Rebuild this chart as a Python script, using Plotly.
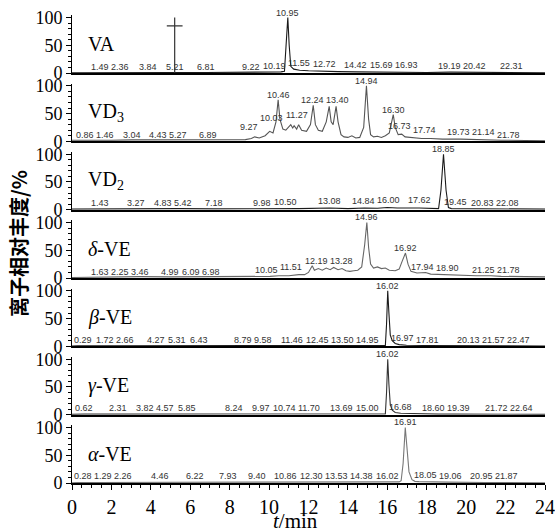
import plotly.graph_objects as go

W, H = 555, 532

# ---------------- data (retention time in min, relative abundance in %) ----------------
va_t = [0, 1.49, 2.36, 3.84, 5.21, 6.81, 8.0, 9.22, 10.19, 10.6, 10.78, 10.86, 10.95, 11.02, 11.1, 11.25, 11.55, 12.0, 12.72, 13.5, 14.42, 15.69, 16.93, 18.0, 19.19, 20.42, 22.31, 24]
va_i = [0.5, 1, 1, 1, 1, 1, 1, 1.5, 2, 2, 3, 45, 100, 50, 12, 7, 5, 4, 3, 2.5, 2, 1.5, 1.5, 1, 1.5, 1, 1, 0.5]
va_labels = ["1.49", "2.36", "3.84", "5.21", "6.81", "9.22", "10.19", "10.95", "11.55", "12.72", "14.42", "15.69", "16.93", "19.19", "20.42", "22.31"]
va_label_h = [3, 3, 3, 3, 3, 3, 6, 101, 10, 9, 8, 7, 7, 6, 5, 5]
va_cursor_t = 5.21
va_cursor_h = 85

vd3_t = [0, 0.86, 1.46, 2.0, 3.04, 4.43, 5.27, 6.0, 6.89, 8.0, 8.8, 9.1, 9.27, 9.5, 9.8, 10.03, 10.2, 10.35, 10.46, 10.55, 10.7, 10.85, 11.0, 11.1, 11.2, 11.27, 11.4, 11.5, 11.65, 11.9, 12.1, 12.24, 12.35, 12.5, 12.7, 12.9, 13.05, 13.15, 13.25, 13.4, 13.5, 13.65, 13.8, 14.0, 14.2, 14.4, 14.6, 14.8, 14.94, 15.05, 15.15, 15.3, 15.5, 15.7, 15.9, 16.1, 16.3, 16.4, 16.55, 16.73, 16.9, 17.2, 17.74, 18.2, 18.8, 19.73, 20.5, 21.14, 21.78, 23.0, 24]
vd3_i = [2, 2.5, 3, 2, 2.5, 2.5, 3, 2, 2.5, 2.5, 3, 5, 8, 6, 10, 18, 15, 35, 75, 40, 22, 20, 27, 30, 24, 28, 22, 30, 20, 18, 30, 65, 30, 20, 18, 35, 63, 35, 30, 63, 35, 12, 8, 7, 10, 6, 7, 25, 100, 40, 12, 8, 9, 7, 10, 15, 48, 25, 12, 13, 8, 7, 5, 5, 4, 4, 3, 3, 2, 1.5, 1]
vd3_labels = ["0.86", "1.46", "3.04", "4.43", "5.27", "6.89", "9.27", "10.03", "10.46", "11.27", "12.24", "13.40", "14.94", "16.30", "16.73", "17.74", "19.73", "21.14", "21.78"]
vd3_label_h = [4, 4, 4, 5, 5, 4, 18, 35, 77, 41, 68, 68, 102, 50, 21, 14, 9, 9, 5]

vd2_t = [0, 1.43, 3.27, 4.83, 5.42, 7.18, 9.0, 9.98, 10.5, 11.5, 13.08, 14.0, 14.84, 15.5, 16.0, 16.5, 17.62, 18.4, 18.6, 18.72, 18.85, 18.98, 19.1, 19.25, 19.45, 20.83, 22.08, 24]
vd2_i = [1, 1.5, 1.5, 1.5, 2, 1.5, 1.5, 2, 2.5, 2, 3, 2, 3, 2.5, 4, 3, 3, 2, 2, 35, 100, 35, 4, 2, 2, 1.5, 1.5, 1]
vd2_labels = ["1.43", "3.27", "4.83", "5.42", "7.18", "9.98", "10.50", "13.08", "14.84", "16.00", "17.62", "18.85", "19.45", "20.83", "22.08"]
vd2_label_h = [4, 4, 4, 4, 4, 4, 7, 9, 9, 10, 10, 102, 6, 4, 4]

dve_t = [0, 1.63, 2.25, 3.46, 4.99, 6.09, 6.98, 8.0, 9.0, 10.05, 10.5, 11.0, 11.51, 11.8, 12.0, 12.19, 12.3, 12.5, 12.7, 12.9, 13.1, 13.28, 13.5, 13.7, 13.9, 14.1, 14.3, 14.5, 14.7, 14.85, 14.96, 15.05, 15.15, 15.3, 15.5, 15.7, 15.9, 16.1, 16.4, 16.6, 16.75, 16.92, 17.05, 17.2, 17.5, 17.94, 18.2, 18.9, 19.5, 20.5, 21.25, 21.78, 23.0, 24]
dve_i = [1, 2, 2.5, 2.5, 2, 2, 2.5, 2, 2.5, 3, 4, 4, 6, 6, 10, 22, 14, 17, 14, 18, 15, 19, 15, 17, 13, 12, 13, 14, 20, 60, 100, 55, 25, 18, 20, 17, 18, 14, 13, 16, 30, 45, 25, 12, 9, 10, 7, 6, 5, 4, 4, 3, 2.5, 2]
dve_labels = ["1.63", "2.25", "3.46", "4.99", "6.09", "6.98", "10.05", "11.51", "12.19", "13.28", "14.96", "16.92", "17.94", "18.90", "21.25", "21.78"]
dve_label_h = [3, 3, 3, 3, 3, 3, 7, 13, 23, 23, 102, 46, 13, 10, 8, 7]

bve_t = [0, 0.29, 1.72, 2.66, 4.27, 5.31, 6.43, 8.79, 9.58, 11.46, 12.45, 13.5, 14.95, 15.9, 15.96, 16.02, 16.08, 16.15, 16.25, 16.4, 16.6, 16.97, 17.81, 20.13, 21.57, 22.47, 24]
bve_i = [0.5, 1, 1, 1, 1, 1, 1, 1, 1, 1, 1, 1, 1.5, 1.5, 40, 100, 60, 20, 10, 5, 3, 2, 1.5, 1, 1, 1, 0.5]
bve_labels = ["0.29", "1.72", "2.66", "4.27", "5.31", "6.43", "8.79", "9.58", "11.46", "12.45", "13.50", "14.95", "16.02", "16.97", "17.81", "20.13", "21.57", "22.47"]
bve_label_h = [4, 4, 4, 4, 4, 4, 4, 4, 5, 5, 5, 5, 102, 7, 5, 4, 4, 4]

gve_t = [0, 0.62, 2.31, 3.82, 4.57, 5.85, 8.24, 9.97, 10.74, 11.7, 13.69, 15.0, 15.9, 15.96, 16.02, 16.08, 16.15, 16.25, 16.4, 16.68, 17.5, 18.6, 19.39, 21.72, 22.64, 24]
gve_i = [0.5, 1, 1, 1, 1.5, 1.5, 1, 1, 1.5, 1.5, 1, 1.5, 1.5, 40, 100, 55, 18, 8, 4, 2.5, 1.5, 1, 1, 1, 1, 0.5]
gve_labels = ["0.62", "2.31", "3.82", "4.57", "5.85", "8.24", "9.97", "10.74", "11.70", "13.69", "15.00", "16.02", "16.68", "18.60", "19.39", "21.72", "22.64"]
gve_label_h = [4, 4, 4, 4, 4, 4, 4, 4, 4, 4, 4, 102, 6, 4, 4, 4, 4]

ave_t = [0, 0.28, 1.29, 2.26, 4.46, 6.22, 7.93, 9.4, 10.86, 12.3, 13.53, 14.38, 16.02, 16.6, 16.7, 16.8, 16.91, 17.0, 17.1, 17.25, 17.4, 17.6, 18.05, 19.06, 20.95, 21.87, 24]
ave_i = [0.5, 1, 1, 1, 1, 1.5, 1.5, 1, 1.5, 1.5, 1, 1.5, 1.5, 2, 4, 35, 100, 65, 20, 6, 3, 2.5, 2, 1.5, 1, 1, 0.5]
ave_labels = ["0.28", "1.29", "2.26", "4.46", "6.22", "7.93", "9.40", "10.86", "12.30", "13.53", "14.38", "16.02", "16.91", "18.05", "19.06", "20.95", "21.87"]
ave_label_h = [5, 5, 5, 5, 5, 5, 5, 5, 5, 5, 5, 5, 102, 7, 5, 5, 5]

panel_names = ["VA", "VD<sub>3</sub>", "VD<sub>2</sub>", "<i>δ</i>-VE", "<i>β</i>-VE", "<i>γ</i>-VE", "<i>α</i>-VE"]
y_ticks = [0, 50, 100]
x_ticks = list(range(0, 25, 2))
y_title = "离子相对丰度/%"
x_title = "<i>t</i>/min"

series = [
    (va_t, va_i, va_labels, va_label_h),
    (vd3_t, vd3_i, vd3_labels, vd3_label_h),
    (vd2_t, vd2_i, vd2_labels, vd2_label_h),
    (dve_t, dve_i, dve_labels, dve_label_h),
    (bve_t, bve_i, bve_labels, bve_label_h),
    (gve_t, gve_i, gve_labels, gve_label_h),
    (ave_t, ave_i, ave_labels, ave_label_h),
]
line_colors = ["#1a1a1a", "#555555", "#1a1a1a", "#666666", "#1a1a1a", "#333333", "#777777"]

# ---------------- layout geometry (pixels) ----------------
baselines = [73, 141.3, 209.7, 278, 346.3, 414.7, 483]
span100 = 55.5
YMAX = 104
x_left, x_right = 72, 545
px_per_min = (x_right - x_left) / 24.0
LABEL_FS = 9

serif = "Liberation Serif, Times New Roman, serif"
sans = "Liberation Sans, Arial, sans-serif"


def label_width_min(s):
    # approximate rendered width of a peak label, converted to minutes (+ small gap)
    w = sum(2.6 if c == "." else 5.0 for c in s) + 2.5
    return w / px_per_min


def spread_labels(labs, heights):
    """Push apart labels on the same row so that they do not overlap (as the
    instrument software does); returns display x positions in minutes."""
    xs = [float(s) for s in labs]
    widths = [label_width_min(s) for s in labs]
    row_px = 11.0 / span100 * 100.0  # label height in % units
    for _ in range(200):
        moved = False
        for i in range(len(xs)):
            for j in range(i + 1, len(xs)):
                if abs(heights[i] - heights[j]) >= row_px:
                    continue
                need = (widths[i] + widths[j]) / 2.0
                d = xs[j] - xs[i]
                if abs(d) < need:
                    sgn = 1 if d >= 0 else -1
                    push = (need - abs(d)) / 2.0 + 1e-3
                    xs[i] -= sgn * push
                    xs[j] += sgn * push
                    moved = True
        for i in range(len(xs)):
            lo, hi = widths[i] / 2.0 + 0.05, 24 - widths[i] / 2.0 + 0.2
            xs[i] = min(max(xs[i], lo), hi)
        if not moved:
            break
    return xs


fig = go.Figure()
layout = dict(
    width=W, height=H,
    margin=dict(l=0, r=0, t=0, b=0, autoexpand=False),
    paper_bgcolor="white", plot_bgcolor="white",
    showlegend=False,
)
annotations = []

n = len(series)
for k, (tt, ii, labs, lh) in enumerate(series):
    idx = "" if k == 0 else str(k + 1)
    xa, ya = "x" + idx, "y" + idx
    b = baselines[k]
    top = b - span100 * YMAX / 100.0
    fig.add_trace(go.Scatter(x=tt, y=ii, mode="lines", xaxis=xa, yaxis=ya,
                             line=dict(color=line_colors[k], width=1.1), hoverinfo="skip"))
    last = (k == n - 1)
    xax = dict(
        domain=[x_left / W, x_right / W], range=[0, 24], anchor=ya, automargin=False,
        showline=True, linecolor="black", linewidth=2, showgrid=False, zeroline=False,
        fixedrange=True,
    )
    if last:
        xax.update(ticks="outside", tickvals=x_ticks, ticklen=5, tickwidth=1, tickcolor="black",
                   showticklabels=True, ticklabeloverflow="allow", ticklabelstandoff=0,
                   tickfont=dict(family=serif, size=20, color="black"),
                   minor=dict(dtick=0.5, ticks="outside", ticklen=3, tickcolor="black"))
    else:
        xax.update(ticks="", showticklabels=False)
    layout["xaxis" + idx] = xax
    layout["yaxis" + idx] = dict(
        domain=[1 - b / H, 1 - top / H], range=[0, YMAX], anchor=xa, automargin=False,
        showline=True, linecolor="black", linewidth=1, showgrid=False, zeroline=False,
        ticks="outside", tickvals=y_ticks, ticklen=5, tickcolor="black",
        ticklabeloverflow="allow",
        tickfont=dict(family=serif, size=18, color="black"),
        minor=dict(tickvals=list(range(10, 100, 10)), ticks="outside", ticklen=3, tickcolor="black"),
        fixedrange=True,
    )
    # peak labels
    xs = spread_labels(labs, lh)
    for lab, h, xp in zip(labs, lh, xs):
        annotations.append(dict(x=xp, y=h, xref=xa, yref=ya, text=lab, showarrow=False,
                                yanchor="bottom", xanchor="center", borderpad=0, yshift=-2,
                                font=dict(family=sans, size=LABEL_FS, color="#333333")))
    # panel name
    annotations.append(dict(x=86 / W, y=52, xref="paper", yref=ya, text=panel_names[k],
                            showarrow=False, xanchor="left", yanchor="middle",
                            font=dict(family=serif, size=20, color="black")))

# cursor cross in the VA panel
fig.add_trace(go.Scatter(x=[va_cursor_t, va_cursor_t], y=[0, 100], mode="lines", xaxis="x", yaxis="y",
                         line=dict(color="#333333", width=1.2), hoverinfo="skip"))
fig.add_trace(go.Scatter(x=[va_cursor_t - 0.4, va_cursor_t + 0.4], y=[va_cursor_h, va_cursor_h], mode="lines",
                         xaxis="x", yaxis="y", line=dict(color="#333333", width=1.2), hoverinfo="skip"))

# axis titles
annotations.append(dict(x=18 / W, y=1 - 244 / H, xref="paper", yref="paper", text="<b>" + y_title + "</b>",
                        showarrow=False, textangle=-90, xanchor="center", yanchor="middle",
                        font=dict(family="Noto Sans CJK SC", size=20, color="black")))
annotations.append(dict(x=295 / W, y=0, xref="paper", yref="paper", text=x_title,
                        showarrow=False, xanchor="center", yanchor="bottom", borderpad=0, yshift=-2,
                        font=dict(family=serif, size=21, color="black")))

layout["annotations"] = annotations
fig.update_layout(**layout)
fig.write_html("out.html", config={"displayModeBar": False, "staticPlot": True},
               post_script="document.body.style.margin='0px';document.body.style.overflow='hidden';")
